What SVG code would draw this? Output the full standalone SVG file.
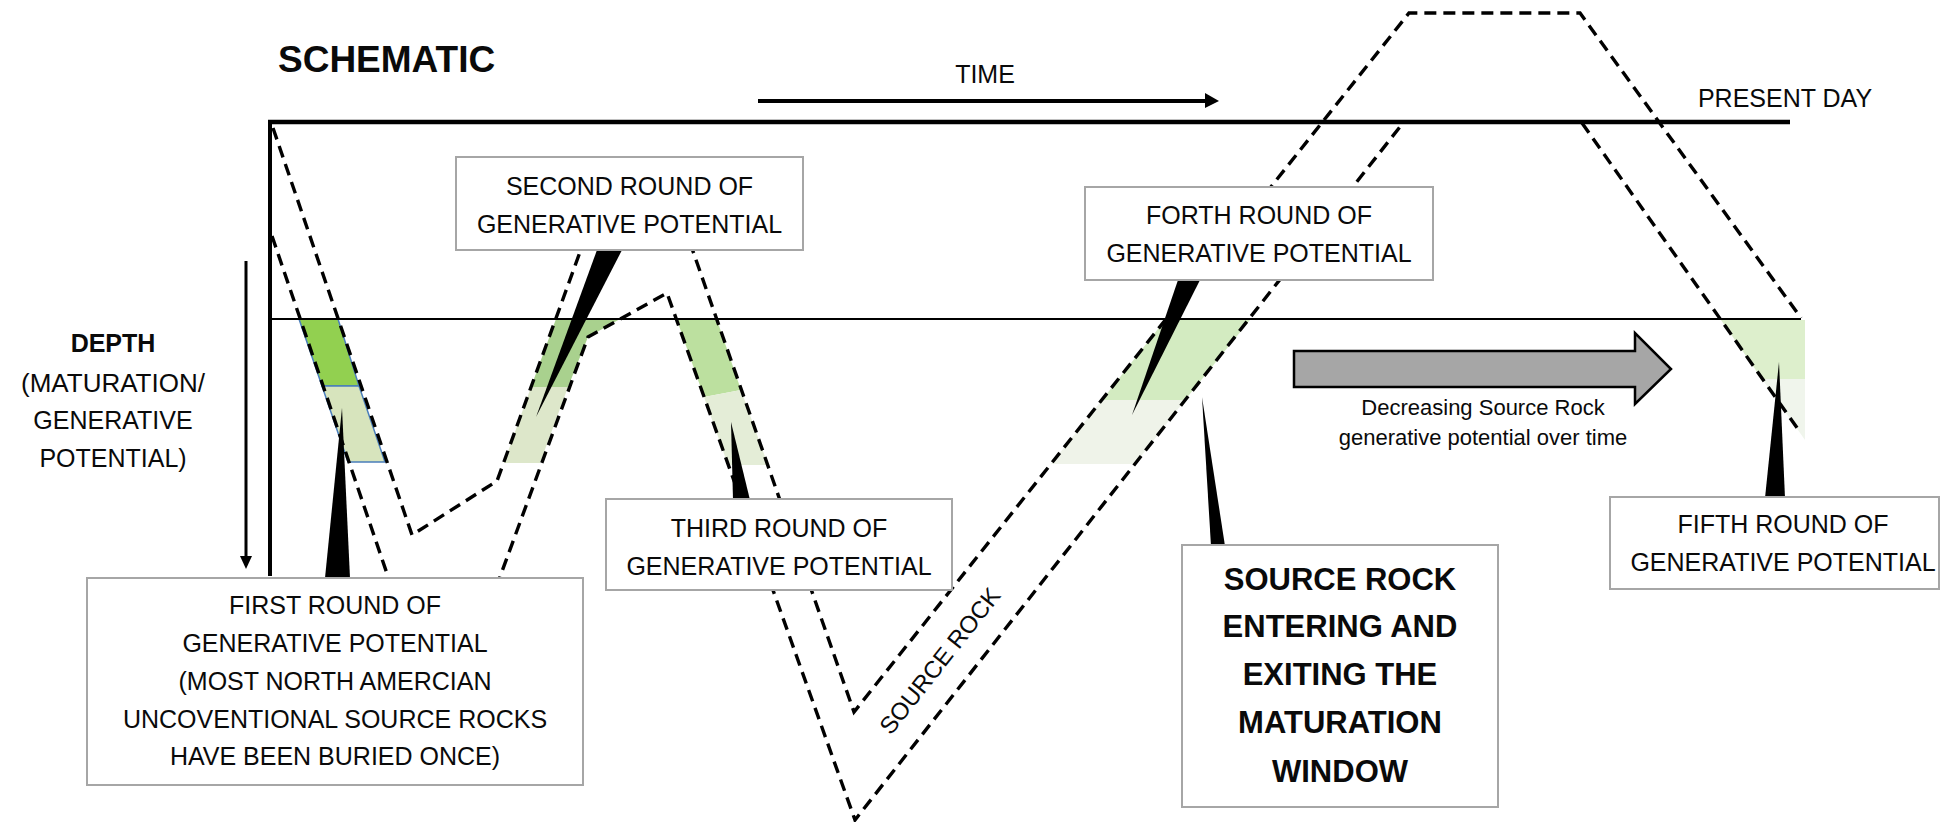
<svg xmlns="http://www.w3.org/2000/svg" width="1941" height="822" viewBox="0 0 1941 822">
<defs>
<style>
.dash{fill:none;stroke:#000;stroke-width:3.4;stroke-dasharray:12 7}
.box{fill:#fff;stroke:#A6A6A6;stroke-width:2}
.t{font-family:"Liberation Sans",Arial,sans-serif;font-size:25px;fill:#0a0a0a;text-anchor:middle}
.b{font-weight:bold}
.ptr{fill:#000}
.ax{stroke:#000;fill:none}
</style>
</defs>
<rect width="1941" height="822" fill="#fff"/>

<g id="patches">
  <polygon points="299,319 338,319 359,386 322,386" fill="#92D050" stroke="#4A7EBB" stroke-width="1.5"/>
  <polygon points="322,386 359,386 385,462 348,462" fill="#D7E4BD" stroke="#4A7EBB" stroke-width="1.5"/>
  <polygon points="556,319 620,319 588,337 568,387 531,387" fill="#A9D18E"/>
  <polygon points="531,387 568,387 540,463 504,463" fill="#DDE7CA"/>
  <polygon points="677,320 717,320 741,390 704,397" fill="#BCE09F"/>
  <polygon points="704,397 741,390 768,465 728,465" fill="#E4EDD7"/>
  <polygon points="1165,320 1250,320 1185,400 1102,400" fill="#D3EBC1"/>
  <polygon points="1102,400 1185,400 1135,464 1051,464" fill="#EFF3E9"/>
  <polygon points="1721,320 1805,320 1805,379 1762,379" fill="#DDEFCC"/>
  <polygon points="1762,379 1805,379 1805,440" fill="#F0F5EC"/>
</g>

<g id="axes">
  <line class="ax" x1="268" y1="122" x2="1790" y2="122" stroke-width="4.5"/>
  <line class="ax" x1="270" y1="120" x2="270" y2="576" stroke-width="4"/>
  <line class="ax" x1="270" y1="319" x2="1801" y2="319" stroke-width="2"/>
  <line class="ax" x1="246" y1="261" x2="246" y2="558" stroke-width="3"/>
  <polygon points="240,556 252,556 246,569" fill="#000"/>
  <line class="ax" x1="758" y1="101" x2="1207" y2="101" stroke-width="4"/>
  <polygon points="1205,93 1219,101 1205,108" fill="#000"/>
  <text class="t" x="985" y="83">TIME</text>
  <text class="t" x="1785" y="107">PRESENT DAY</text>
  <text class="t b" x="278" y="72" style="font-size:37px;text-anchor:start">SCHEMATIC</text>
  <g id="depth-label">
    <text class="t b" x="113" y="352">DEPTH</text>
    <text class="t" x="113" y="392" style="font-size:26px">(MATURATION/</text>
    <text class="t" x="113" y="429">GENERATIVE</text>
    <text class="t" x="113" y="467">POTENTIAL)</text>
  </g>
</g>

<g id="connectors">
  <path class="dash" d="M273,128 L412,535 L497,481 L580,252 L561,200 L675,200 L695,257 L854,712 L1409,13 L1580,13 L1801,318"/>
  <path class="dash" d="M272,236 L442,735 L588,337 L667,293 L855,820 L1403,123"/>
  <path class="dash" d="M1582,123 L1800,432"/>
  <text class="t" transform="translate(940,661) rotate(-51.7)" y="8" style="font-size:24px">SOURCE ROCK</text>
</g>

<g id="decreasing-arrow">
  <path d="M1294,351 L1635,351 L1635,333 L1671,369 L1635,404 L1635,387 L1294,387 Z" fill="#A6A6A6" stroke="#000" stroke-width="2.5" stroke-linejoin="miter"/>
  <text class="t" x="1483" y="415" style="font-size:22px">Decreasing Source Rock</text>
  <text class="t" x="1483" y="445" style="font-size:22px">generative potential over time</text>
</g>

<g id="first-round">
  <path class="ptr" d="M325,578 L350,578 L342,408 Z"/>
  <rect class="box" x="87" y="578" width="496" height="207"/>
  <text class="t" x="335" y="614">FIRST ROUND OF</text>
  <text class="t" x="335" y="652">GENERATIVE POTENTIAL</text>
  <text class="t" x="335" y="690">(MOST NORTH AMERCIAN</text>
  <text class="t" x="335" y="728">UNCOVENTIONAL SOURCE ROCKS</text>
  <text class="t" x="335" y="765">HAVE BEEN BURIED ONCE)</text>
</g>

<g id="second-round">
  <path class="ptr" d="M597,250 L622,250 L536,417 Z"/>
  <rect class="box" x="456" y="157" width="347" height="93"/>
  <text class="t" x="629.5" y="195">SECOND ROUND OF</text>
  <text class="t" x="629.5" y="233">GENERATIVE POTENTIAL</text>
</g>

<g id="third-round">
  <path class="ptr" d="M733,500 L750,500 L731,422 Z"/>
  <rect class="box" x="606" y="499" width="346" height="91"/>
  <text class="t" x="779" y="537">THIRD ROUND OF</text>
  <text class="t" x="779" y="575">GENERATIVE POTENTIAL</text>
</g>

<g id="forth-round">
  <path class="ptr" d="M1178,280 L1200,280 L1132,415 Z"/>
  <rect class="box" x="1085" y="187" width="348" height="93"/>
  <text class="t" x="1259" y="224">FORTH ROUND OF</text>
  <text class="t" x="1259" y="262">GENERATIVE POTENTIAL</text>
</g>

<g id="maturation-window">
  <path class="ptr" d="M1211,546 L1225,546 L1202,397 Z"/>
  <rect class="box" x="1182" y="545" width="316" height="262"/>
  <text class="t b" x="1340" y="590" style="font-size:31px">SOURCE ROCK</text>
  <text class="t b" x="1340" y="637" style="font-size:31px">ENTERING AND</text>
  <text class="t b" x="1340" y="685" style="font-size:31px">EXITING THE</text>
  <text class="t b" x="1340" y="733" style="font-size:31px">MATURATION</text>
  <text class="t b" x="1340" y="782" style="font-size:31px">WINDOW</text>
</g>

<g id="fifth-round">
  <path class="ptr" d="M1765,498 L1785,498 L1779,362 Z"/>
  <rect class="box" x="1610" y="497" width="329" height="92"/>
  <text class="t" x="1783" y="533">FIFTH ROUND OF</text>
  <text class="t" x="1783" y="571">GENERATIVE POTENTIAL</text>
</g>
</svg>
